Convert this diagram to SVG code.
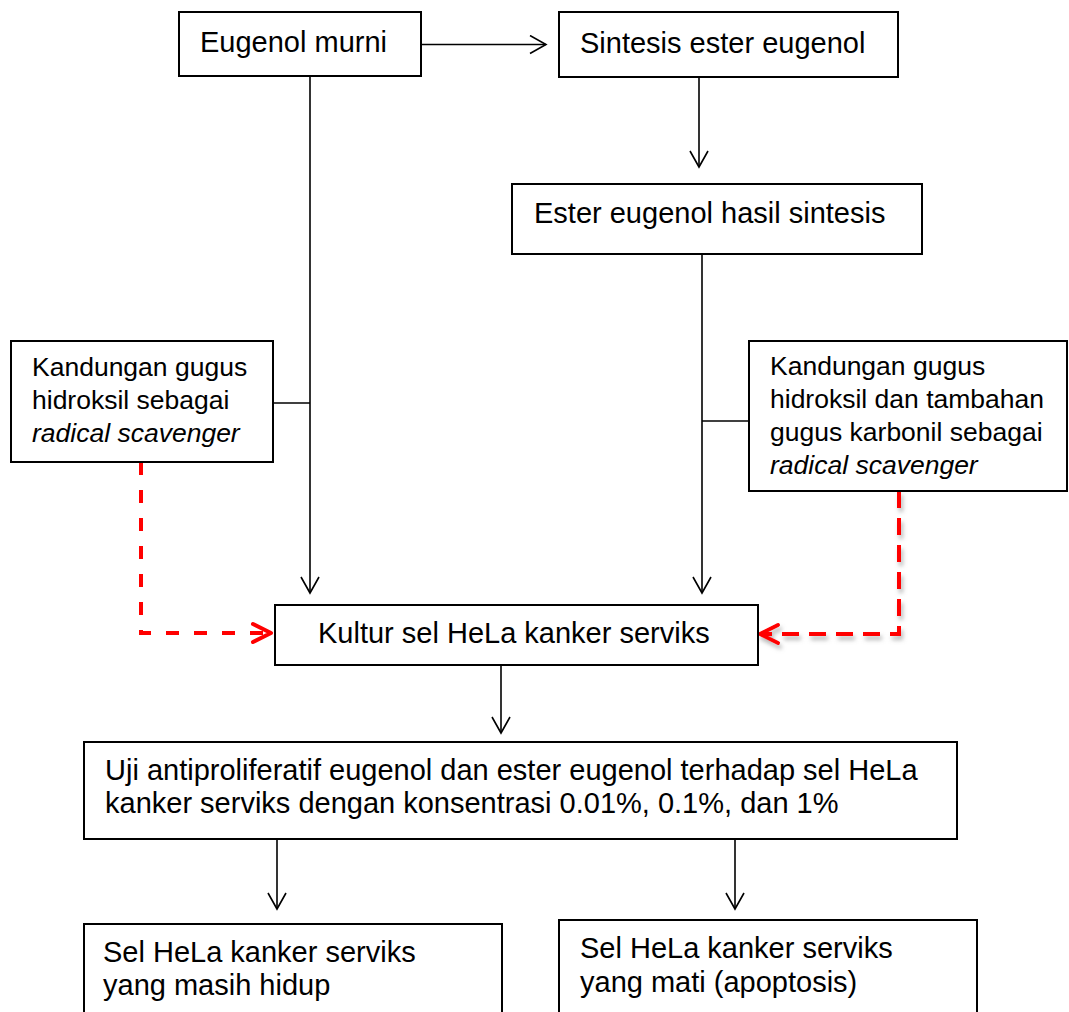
<svg xmlns="http://www.w3.org/2000/svg" width="1069" height="1012" viewBox="0 0 1069 1012">
<defs>
<style>
.box{fill:#fff;stroke:#000;stroke-width:2}
.t{font-family:"Liberation Sans",Arial,sans-serif;font-size:29px;fill:#000}
.s{font-family:"Liberation Sans",Arial,sans-serif;font-size:26.5px;fill:#000}
.ln{fill:none;stroke:#000;stroke-width:1.6}
.red{fill:none;stroke:#ff0000;stroke-width:4}
</style>
<marker id="ah" viewBox="0 0 20 20" refX="18" refY="10" markerWidth="20" markerHeight="20" markerUnits="userSpaceOnUse" orient="auto">
<path d="M2,1 L18,10 L2,19" fill="none" stroke="#000" stroke-width="1.6"/>
</marker>
<marker id="rh" viewBox="0 0 24 24" refX="21" refY="12" markerWidth="24" markerHeight="24" markerUnits="userSpaceOnUse" orient="auto">
<path d="M3,3 L21,12 L3,21" fill="none" stroke="#ff0000" stroke-width="4" stroke-linecap="round" stroke-linejoin="round"/>
</marker>
<filter id="sh" x="-20%" y="-20%" width="140%" height="140%">
<feDropShadow dx="2" dy="4" stdDeviation="2" flood-color="#888" flood-opacity="0.6"/>
</filter>
</defs>
<rect width="1069" height="1012" fill="#fff"/>

<g id="connectors">
<line class="ln" x1="421" y1="44.5" x2="546" y2="44.5" marker-end="url(#ah)"/>
<line class="ln" x1="699" y1="77" x2="699" y2="167" marker-end="url(#ah)"/>
<line class="ln" x1="310" y1="76" x2="310" y2="593" marker-end="url(#ah)"/>
<line class="ln" x1="273" y1="403" x2="310" y2="403"/>
<line class="ln" x1="702" y1="254" x2="702" y2="593" marker-end="url(#ah)"/>
<line class="ln" x1="749" y1="421" x2="702" y2="421"/>
<line class="ln" x1="501" y1="665" x2="501" y2="733" marker-end="url(#ah)"/>
<line class="ln" x1="277" y1="839" x2="277" y2="909" marker-end="url(#ah)"/>
<line class="ln" x1="735" y1="839" x2="735" y2="909" marker-end="url(#ah)"/>
<path class="red" d="M141,462 L141,633 L271,633" stroke-dasharray="13 15" marker-end="url(#rh)"/>
<path class="red" d="M899,491 L899,634 L760,634" stroke-dasharray="17 10" marker-end="url(#rh)" filter="url(#sh)"/>
</g>

<g id="eugenol-murni">
<rect class="box" x="179" y="12" width="242" height="64"/>
<text class="t" x="200" y="52">Eugenol murni</text>
</g>

<g id="sintesis">
<rect class="box" x="559" y="12" width="339" height="65"/>
<text class="t" x="580" y="53">Sintesis ester eugenol</text>
</g>

<g id="ester-hasil">
<rect class="box" x="512" y="184" width="410" height="70"/>
<text class="t" x="534" y="223">Ester eugenol hasil sintesis</text>
</g>

<g id="hidroksil-kiri">
<rect class="box" x="11" y="341" width="262" height="121"/>
<text class="s" x="32" y="376">Kandungan gugus</text>
<text class="s" x="32" y="409">hidroksil sebagai</text>
<text class="s" x="32" y="442" font-style="italic">radical scavenger</text>
</g>

<g id="hidroksil-kanan">
<rect class="box" x="749" y="341" width="318" height="150"/>
<text class="s" x="770" y="375">Kandungan gugus</text>
<text class="s" x="770" y="408">hidroksil dan tambahan</text>
<text class="s" x="770" y="441">gugus karbonil sebagai</text>
<text class="s" x="770" y="474" font-style="italic">radical scavenger</text>
</g>

<g id="kultur">
<rect class="box" x="275" y="605" width="483" height="60"/>
<text class="t" x="318" y="643">Kultur sel HeLa kanker serviks</text>
</g>

<g id="uji">
<rect class="box" x="84" y="742" width="873" height="97"/>
<text class="t" x="105" y="780">Uji antiproliferatif eugenol dan ester eugenol terhadap sel HeLa</text>
<text class="t" x="105" y="813">kanker serviks dengan konsentrasi 0.01%, 0.1%, dan 1%</text>
</g>

<g id="hidup">
<rect class="box" x="84" y="924" width="418" height="100"/>
<text class="t" x="103" y="962">Sel HeLa kanker serviks</text>
<text class="t" x="103" y="995">yang masih hidup</text>
</g>

<g id="mati">
<rect class="box" x="559" y="920" width="418" height="104"/>
<text class="t" x="580" y="958">Sel HeLa kanker serviks</text>
<text class="t" x="580" y="992">yang mati (apoptosis)</text>
</g>
</svg>
